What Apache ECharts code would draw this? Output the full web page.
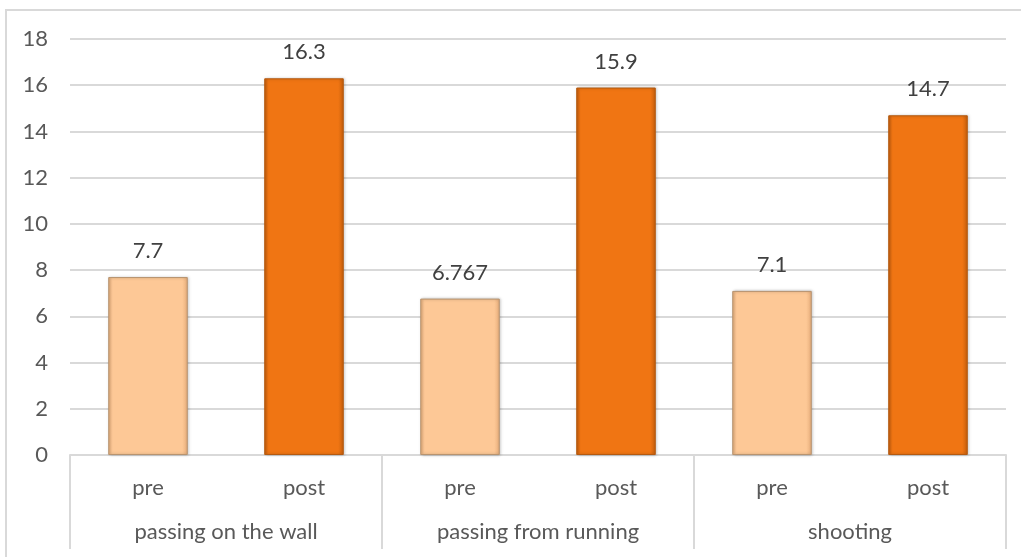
<!DOCTYPE html>
<html>
<head>
<meta charset="utf-8">
<script src="https://cdn.jsdelivr.net/npm/echarts@6/dist/echarts.min.js"></script>
<style>
  html, body { margin: 0; padding: 0; background: #fff; }
  #frame { position: absolute; left: 5px; top: 9px; width: 1030px; height: 560px;
           border-left: 2px solid #d9d9d9; border-top: 2px solid #d9d9d9; }
  #chart { position: absolute; left: 0; top: 0; width: 1021px; height: 557px; }
</style>
</head>
<body>
<div id="frame"></div>
<div id="chart"></div>
<script>
// data
const groups = ['passing on the wall', 'passing from running', 'shooting'];
const phases = ['pre', 'post'];
const preValues = [7.7, 6.767, 7.1];
const postValues = [16.3, 15.9, 14.7];
const yTicks = [0, 18, 2]; // min, max, step

const FONT = 'Lato';
const TEXT = '#595959';
const GRID = '#d9d9d9';

// side shading to fake the bevel
const bevel = (base, edge) => ({
  type: 'linear', x: 0, y: 0, x2: 1, y2: 0,
  colorStops: [
    { offset: 0, color: edge },
    { offset: 0.05, color: base },
    { offset: 0.93, color: base },
    { offset: 1, color: edge }
  ]
});
const shadow = { shadowColor: 'rgba(0,0,0,0.25)', shadowBlur: 3, shadowOffsetX: 1, shadowOffsetY: 0 };
const preStyle = Object.assign({ color: bevel('#fdc896', '#e6ad7a'), borderColor: '#b89470', borderWidth: 1 }, shadow);
const postStyle = Object.assign({ color: bevel('#f07513', '#c45e0c'), borderColor: '#b55a10', borderWidth: 1 }, shadow);

const cats = [];
const barData = [];
groups.forEach((g, i) => {
  cats.push(phases[0], phases[1]);
  barData.push({ value: preValues[i], itemStyle: preStyle });
  barData.push({ value: postValues[i], itemStyle: postStyle });
});

const chart = echarts.init(document.getElementById('chart'));
chart.setOption({
  animation: false,
  grid: { left: 70, right: 15, top: 39, bottom: 102 },
  xAxis: [
    {
      type: 'category',
      data: cats,
      axisLine: { show: true, lineStyle: { color: GRID, width: 2 } },
      axisTick: { show: false },
      axisLabel: { interval: 0, color: TEXT, fontFamily: FONT, fontSize: 22, margin: 22 }
    },
    {
      type: 'category',
      position: 'bottom',
      data: groups,
      axisLine: { show: false },
      axisTick: { show: true, length: 94, lineStyle: { color: GRID, width: 2 } },
      axisLabel: { interval: 0, color: TEXT, fontFamily: FONT, fontSize: 22, margin: 66 }
    }
  ],
  yAxis: {
    type: 'value',
    min: yTicks[0], max: yTicks[1], interval: yTicks[2],
    axisLine: { show: false },
    axisTick: { show: false },
    splitLine: { lineStyle: { color: GRID, width: 2 } },
    axisLabel: { color: TEXT, fontFamily: FONT, fontSize: 22, margin: 22 }
  },
  series: [{
    type: 'bar',
    xAxisIndex: 0,
    barWidth: '51%',
    data: barData,
    label: {
      show: true, position: 'top', distance: 15,
      color: '#404040', fontFamily: FONT, fontSize: 22
    }
  }]
});
</script>
</body>
</html>
